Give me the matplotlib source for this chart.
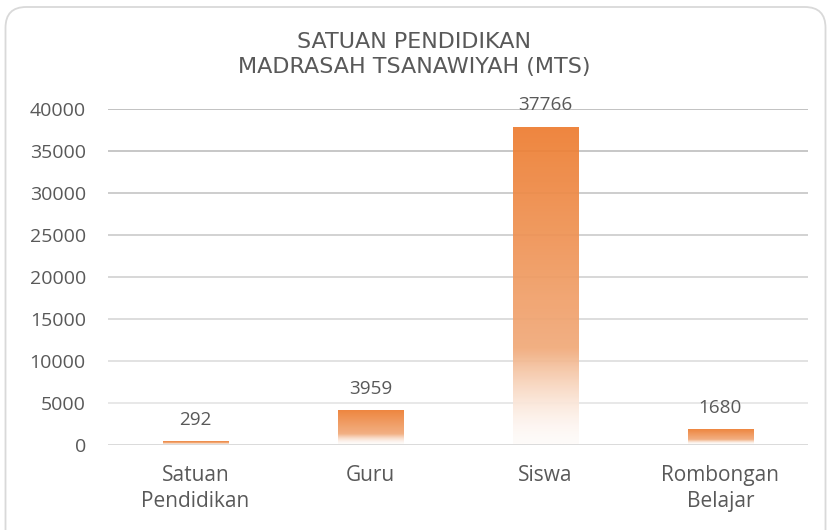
import numpy as np
import matplotlib
matplotlib.use("Agg")
import matplotlib.pyplot as plt
from matplotlib.patches import FancyBboxPatch
from matplotlib.colors import to_rgb

categories = ["Satuan\nPendidikan", "Guru", "Siswa", "Rombongan\nBelajar"]
values = [292, 3959, 37766, 1680]
yticks = [0, 5000, 10000, 15000, 20000, 25000, 30000, 35000, 40000]
title_lines = ["SATUAN PENDIDIKAN", "MADRASAH TSANAWIYAH (MTS)"]

ORANGE = np.array(to_rgb("#ED7D31"))
MID = np.array([241, 170, 122]) / 255.0
WHITE = np.array([254, 251, 249]) / 255.0
TEXT = "#595959"
FONT = "Open Sans"

fig = plt.figure(figsize=(8.28, 5.30), dpi=100)
fig.patch.set_facecolor("white")

# rounded chart-area frame
frame = FancyBboxPatch((5.5 / 828, -0.05), 820 / 828, (530 - 7 + 0.05 * 530) / 530,
                       boxstyle="round,pad=0,rounding_size=0.025",
                       transform=fig.transFigure, facecolor="white",
                       edgecolor="#d9d9d9", linewidth=1.3, zorder=-5,
                       mutation_aspect=828 / 530)
fig.patches.append(frame)

ax = fig.add_axes([108 / 828, 1 - 444.5 / 530, 700 / 828, (444.5 - 109) / 530])
ax.set_facecolor("none")
ax.set_zorder(2)

n = len(categories)
x = np.arange(n)
width = 0.375

# horizontal gridlines, darker toward the top
for v in yticks[1:]:
    f = v / 40000
    g = 0.93 - 0.17 * f
    ax.axhline(v, color=(g, g, g), linewidth=1.4, zorder=1)
ax.axhline(0, color="#d0d0d0", linewidth=1.8, zorder=4)


def gradient_column(frac):
    # frac: 0 at bottom, 1 at top
    cols = np.empty((len(frac), 3))
    for i, t in enumerate(frac):
        if t >= 0.3:
            u = (t - 0.3) / 0.7
            cols[i] = MID + (ORANGE - MID) * u
        else:
            u = (t / 0.3) ** 1.6
            cols[i] = WHITE + (MID - WHITE) * u
    return cols


for xi, v in zip(x, values):
    frac = np.linspace(1, 0, 200)
    img = gradient_column(frac).reshape(200, 1, 3)
    ax.imshow(img, extent=(xi - width / 2, xi + width / 2, 0, v),
              aspect="auto", interpolation="bilinear", zorder=2, alpha=0.93)
    ax.text(xi, v + 1600, f"{v}", ha="center", va="bottom", fontsize=13.6,
            color=TEXT, family=FONT, zorder=5)

ax.set_xlim(-0.5, n - 0.5)
ax.set_ylim(0, 40000)

for s in ax.spines.values():
    s.set_visible(False)
ax.set_yticks(yticks)
ax.set_yticklabels([str(t) for t in yticks], fontsize=14, color=TEXT, family=FONT)
ax.tick_params(axis="y", length=0, pad=16)
ax.set_xticks(x)
ax.set_xticklabels(categories, fontsize=15, color=TEXT, family=FONT,
                   linespacing=1.3)
ax.tick_params(axis="x", length=0, pad=15)

for i, line in enumerate(title_lines):
    fig.text(0.5, 1 - (42.5 + 24 * i) / 530, line, ha="center", va="center",
             fontsize=16, color=TEXT, family="DejaVu Sans")

fig.savefig("out.png", dpi=100, facecolor="white")
